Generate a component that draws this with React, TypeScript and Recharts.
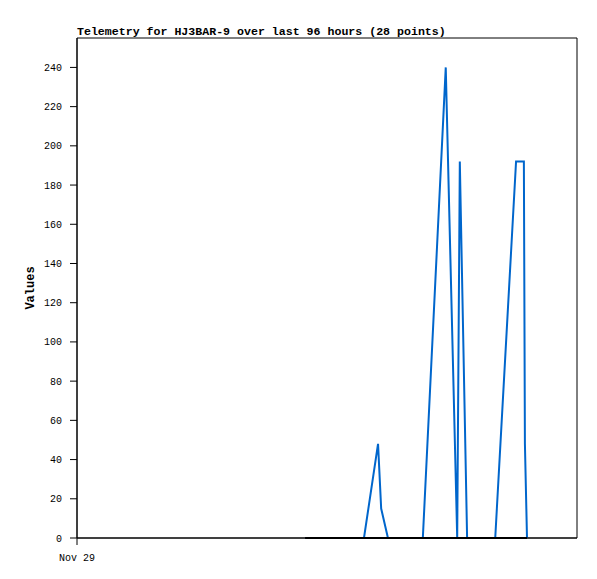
import React from 'react'
import { LineChart, Line, XAxis, YAxis, ReferenceArea } from 'recharts'

// hours since the start of the 96 hour window
const hours = [
  43.8, 44.9, 46.0, 47.1, 48.2, 49.3, 50.3, 51.4, 52.5, 53.8, 55.1,
  57.8, 58.4, 59.7, 61.9, 64.2, 66.4,
  70.8, 73.0, 73.5, 74.9, 76.6, 78.5, 80.3,
  84.3, 85.8, 86.0, 86.4
]
const blueValues = [
  0, 0, 0, 0, 0, 0, 0, 0, 0, 0, 0,
  48, 15, 0, 0, 0, 0,
  240, 0, 192, 0, 0, 0, 0,
  192, 192, 48, 0
]
const blackValues = [
  0, 0, 0, 0, 0, 0, 0, 0, 0, 0, 0,
  0, 0, 0, 0, 0, 0,
  0, 0, 0, 0, 0, 0, 0,
  0, 0, 0, 0
]
const yTicks = [0, 20, 40, 60, 80, 100, 120, 140, 160, 180, 200, 220, 240]
const xTicks = [0]
const xTickLabels = ['Nov 29']

const data = hours.map((t, i) => ({ t, a: blueValues[i], b: blackValues[i] }))

const FONT = '"Liberation Mono", "DejaVu Sans Mono", monospace'

export default function App() {
  return (
    <div style={{ position: 'relative', width: 580, height: 560 }}>
      <div
        style={{
          position: 'absolute',
          left: 69,
          top: 18,
          fontFamily: FONT,
          fontWeight: 'bold',
          fontSize: 11.6,
          lineHeight: '12px',
          whiteSpace: 'nowrap',
          color: '#000'
        }}
      >
        Telemetry for HJ3BAR-9 over last 96 hours (28 points)
      </div>
      <LineChart
        width={580}
        height={560}
        data={data}
        margin={{ top: 30, right: 11, left: 0, bottom: 0 }}
      >
        <XAxis
          dataKey="t"
          type="number"
          domain={[0, 96]}
          ticks={xTicks}
          tickFormatter={(v: number) => xTickLabels[xTicks.indexOf(v)] ?? ''}
          height={30}
          tickSize={7}
          tickMargin={9}
          stroke="#000"
          tick={{ fill: '#000', fontSize: 10, fontFamily: FONT }}
          interval={0}
        />
        <YAxis
          type="number"
          domain={[0, 255]}
          ticks={yTicks}
          width={69}
          tickSize={7}
          tickMargin={8}
          stroke="#000"
          interval={0}
          tick={{ fill: '#000', fontSize: 10, fontFamily: FONT }}
          label={{
            content: (props: any) => {
              const vb = props.viewBox
              const cx = vb.x + 23
              const cy = vb.y + vb.height / 2
              return (
                <text
                  x={cx}
                  y={cy}
                  transform={`rotate(-90, ${cx}, ${cy})`}
                  textAnchor="middle"
                  dominantBaseline="central"
                  fontFamily={FONT}
                  fontWeight="bold"
                  fontSize={12}
                  fill="#000"
                >
                  Values
                </text>
              )
            }
          }}
        />
        <ReferenceArea
          x1={0}
          x2={96}
          y1={0}
          y2={255}
          fill="none"
          stroke="#000"
          strokeWidth={1}
          ifOverflow="visible"
        />
        <Line
          type="linear"
          dataKey="a"
          stroke="#0066cc"
          strokeWidth={2}
          dot={false}
          isAnimationActive={false}
        />
        <Line
          type="linear"
          dataKey="b"
          stroke="#000"
          strokeWidth={2}
          dot={false}
          isAnimationActive={false}
        />
      </LineChart>
    </div>
  )
}
